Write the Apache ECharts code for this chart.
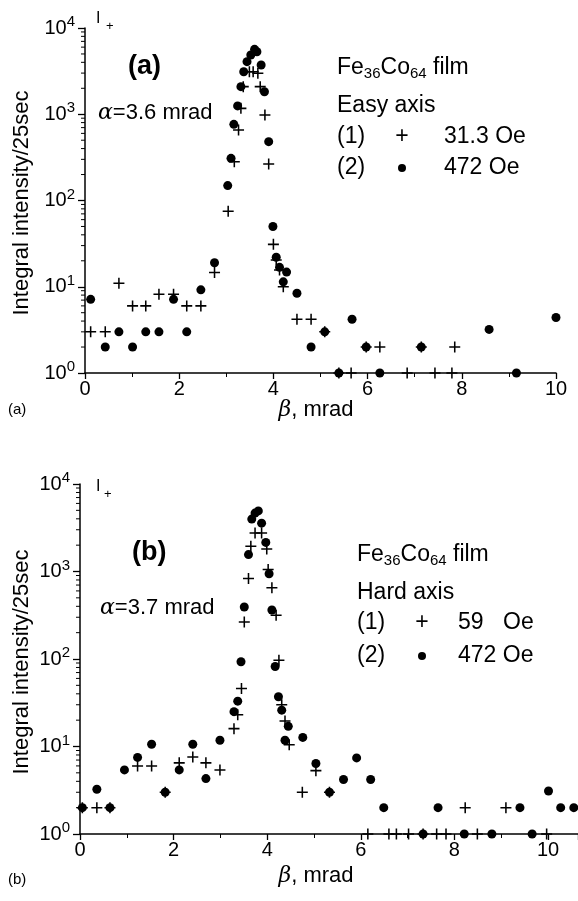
<!DOCTYPE html>
<html><head><meta charset="utf-8">
<script src="https://cdn.jsdelivr.net/npm/echarts@6/dist/echarts.min.js"></script>
<style>html,body{margin:0;padding:0;background:#fff}#c{width:578px;height:901px}</style>
</head><body><div id="c"></div>
<script>
// Panel (a): Easy axis. Series (1) + 31.3 Oe, series (2) dots 472 Oe
const betaA1 = [0.12,0.43,0.72,1.01,1.29,1.57,1.88,2.16,2.46,2.75,3.04,3.17,3.26,3.31,3.36,3.49,3.57,3.67,3.72,3.82,3.90,4.00,4.06,4.13,4.21,4.50,4.80,5.09,5.39,5.65,5.97,6.26,6.84,7.14,7.43,7.79,7.85];
const intA1  = [3,3,11,6,6,8.2,8.2,6,6,14.6,75,282,657,1170,2090,3110,3110,2990,2090,980,265,31,20.4,15.6,10,4.2,4.2,3,1,1,2,2,1,2,1,1,2];
const betaA2 = [0.12,0.43,0.72,1.01,1.29,1.57,1.88,2.16,2.46,2.75,3.03,3.10,3.16,3.24,3.31,3.37,3.44,3.52,3.60,3.65,3.74,3.81,3.90,3.99,4.06,4.13,4.21,4.28,4.50,4.80,5.09,5.39,5.67,5.97,6.26,7.14,8.58,9.16,10.0];
const intA2  = [7.15,2,3,2,3,3,7.15,3,9.2,19,149,308,764,1250,2090,3110,4070,4860,5660,5310,3720,1825,481,50,22,16.8,11.4,14.8,8.4,2,3,1,4.2,2,1,2,3.2,1,4.4];
// Panel (b): Hard axis. Series (1) + 59 Oe, series (2) dots 472 Oe
const betaB1 = [0.05,0.36,0.64,1.23,1.53,1.82,2.12,2.41,2.69,2.99,3.29,3.37,3.45,3.51,3.60,3.65,3.74,3.88,3.99,4.02,4.10,4.19,4.25,4.31,4.38,4.47,4.75,5.04,5.33,6.15,6.60,6.76,7.02,7.33,7.62,7.82,8.23,8.49,9.10,9.97];
const intB1  = [2,2,2,6,6,3,6.5,7.6,6.5,5.4,16,23,46,265,832,1940,2750,2750,1810,1054,653,316,97,30,19.6,10.5,3,5.3,3,1,1,1,1,1,1,1,2,1,2,1];
const betaB2 = [0.05,0.36,0.64,0.95,1.23,1.53,1.82,2.12,2.41,2.69,2.99,3.29,3.37,3.44,3.51,3.60,3.67,3.74,3.81,3.88,3.97,4.04,4.10,4.17,4.24,4.31,4.38,4.45,4.76,5.04,5.33,5.63,5.91,6.21,6.49,7.33,7.65,8.21,8.80,9.40,9.66,10.01,10.27,10.55];
const intB2  = [2,3.25,2,5.4,7.5,10.6,3,5.4,10.6,4.3,11.8,25,33,93,393,1560,3970,4650,4930,3570,2150,942,363,82,37,26,11.8,17,12.7,6.4,3,4.2,7.4,4.2,2,1,2,1,1,2,1,3.1,2,2];

const FONT = '"Liberation Sans", Arial, sans-serif';
const PLUS = 'path://M0,4.3H10V5.7H0Z M4.3,0H5.7V10H4.3Z';
const pairs = (xs, ys) => xs.map((x, i) => [x, ys[i]]);
const minorVals = [];
for (let k = 0; k < 4; k++) for (let m = 2; m <= 9; m++) minorVals.push(m * Math.pow(10, k));

function xAxisCfg(g, max) {
  return {
    type: 'value', gridIndex: g, min: 0, max: max, interval: 2,
    axisLine: { onZero: false, lineStyle: { color: '#000', width: 1.5 } },
    axisTick: { length: 6, lineStyle: { color: '#000', width: 1.3 } },
    minorTick: { show: true, splitNumber: 2, length: 4, lineStyle: { color: '#000', width: 1 } },
    splitLine: { show: false }, minorSplitLine: { show: false },
    axisLabel: { fontSize: 20, fontFamily: FONT, color: '#000', margin: 6, showMaxLabel: max === 10,
      formatter: v => (Math.abs(v / 2 - Math.round(v / 2)) < 1e-6 ? String(Math.round(v)) : '') }
  };
}
function yAxisCfg(g) {
  return {
    type: 'log', logBase: 10, min: 1, max: 10000, gridIndex: g, splitNumber: 4,
    axisLine: { show: true, onZero: false, lineStyle: { color: '#000', width: 1.5 } },
    axisTick: { show: true, length: 7, lineStyle: { color: '#000', width: 1.3 } },
    splitLine: { show: false },
    axisLabel: { margin: 10,
      formatter: v => '{b|10}{s|' + Math.round(Math.log10(v)) + '}',
      rich: { b: { fontSize: 20, fontFamily: FONT, color: '#000' },
              s: { fontSize: 15, fontFamily: FONT, color: '#000', padding: [0, 0, 12, 0] } } }
  };
}
function minorSeries(g) {
  return {
    type: 'custom', xAxisIndex: g, yAxisIndex: g, silent: true, clip: false,
    data: minorVals.map(v => [0, v]),
    renderItem: (params, api) => {
      const p = api.coord([api.value(0), api.value(1)]);
      return { type: 'line', shape: { x1: p[0] - 4, y1: p[1], x2: p[0], y2: p[1] },
               style: { stroke: '#000', lineWidth: 1 } };
    }
  };
}
function scat(g, data, plus) {
  return {
    type: 'scatter', xAxisIndex: g, yAxisIndex: g, clip: false, silent: true,
    data: data, symbol: plus ? PLUS : 'circle', symbolSize: plus ? 11 : 9,
    itemStyle: { color: '#000', opacity: 1 }
  };
}
function txt(x, y, text, size, opts) {
  opts = opts || {};
  return { type: 'text', x: x, y: y, rotation: opts.rot || 0, silent: true,
    style: { text: text, fontSize: size, fontFamily: FONT, fontWeight: opts.bold ? 'bold' : 'normal',
      fill: '#000', align: opts.align || 'left', verticalAlign: 'middle', rich: opts.rich } };
}
function dot(x, y) {
  return { type: 'circle', silent: true, shape: { cx: x, cy: y, r: 4 }, style: { fill: '#000' } };
}
const LS = 23;
const feRich = { n: { fontSize: LS, fontFamily: FONT, color: '#000' },
                 u: { fontSize: 15, fontFamily: FONT, color: '#000', padding: [12, 0, 0, 0] } };
const alRich = { g: { fontSize: 22, fontFamily: '"DejaVu Serif", serif', fontStyle: 'italic', color: '#000' },
                 n: { fontSize: 22, fontFamily: FONT, color: '#000' } };
const beRich = { g: { fontSize: 22, fontFamily: '"DejaVu Serif", serif', fontStyle: 'italic', color: '#000' },
                 n: { fontSize: 22, fontFamily: FONT, color: '#000' } };
const yName = 'Integral intensity/25sec';

const chart = echarts.init(document.getElementById('c'), null, { renderer: 'canvas' });
chart.setOption({
  animation: false,
  backgroundColor: '#fff',
  grid: [
    { left: 85, right: 22, top: 28, height: 345 },
    { left: 80, right: 0, top: 484, height: 350 }
  ],
  xAxis: [xAxisCfg(0, 10), xAxisCfg(1, 10.64)],
  yAxis: [yAxisCfg(0), yAxisCfg(1)],
  series: [
    minorSeries(0), minorSeries(1),
    scat(0, pairs(betaA1, intA1), true), scat(0, pairs(betaA2, intA2), false),
    scat(1, pairs(betaB1, intB1), true), scat(1, pairs(betaB2, intB2), false)
  ],
  graphic: [
    // panel (a)
    txt(96, 19, 'I', 16), txt(106, 26, '+', 13),
    txt(128, 67, '(a)', 27, { bold: true }),
    txt(98, 113, '{g|α}{n|=3.6 mrad}', 22, { rich: alRich }),
    txt(337, 68, '{n|Fe}{u|36}{n|Co}{u|64}{n| film}', LS, { rich: feRich }),
    txt(337, 106, 'Easy axis', LS),
    txt(337, 137, '(1)', LS), txt(402, 137, '+', LS, { align: 'center' }), txt(444, 137, '31.3 Oe', LS),
    txt(337, 168, '(2)', LS), dot(402, 168), txt(444, 168, '472 Oe', LS),
    txt(22, 203, yName, 22, { rot: Math.PI / 2, align: 'center' }),
    txt(316, 410, '{g|β}{n|, mrad}', 22, { rich: beRich, align: 'center' }),
    txt(8, 410, '(a)', 15),
    // panel (b)
    txt(96, 487, 'I', 16), txt(104, 494, '+', 13),
    txt(132, 553, '(b)', 27, { bold: true }),
    txt(100, 608, '{g|α}{n|=3.7 mrad}', 22, { rich: alRich }),
    txt(357, 555, '{n|Fe}{u|36}{n|Co}{u|64}{n| film}', LS, { rich: feRich }),
    txt(357, 593, 'Hard axis', LS),
    txt(357, 623, '(1)', LS), txt(422, 623, '+', LS, { align: 'center' }), txt(458, 623, '59', LS), txt(503, 623, 'Oe', LS),
    txt(357, 656, '(2)', LS), dot(422, 656), txt(458, 656, '472 Oe', LS),
    txt(22, 662, yName, 22, { rot: Math.PI / 2, align: 'center' }),
    txt(316, 876, '{g|β}{n|, mrad}', 22, { rich: beRich, align: 'center' }),
    txt(8, 880, '(b)', 15)
  ]
});
</script></body></html>
